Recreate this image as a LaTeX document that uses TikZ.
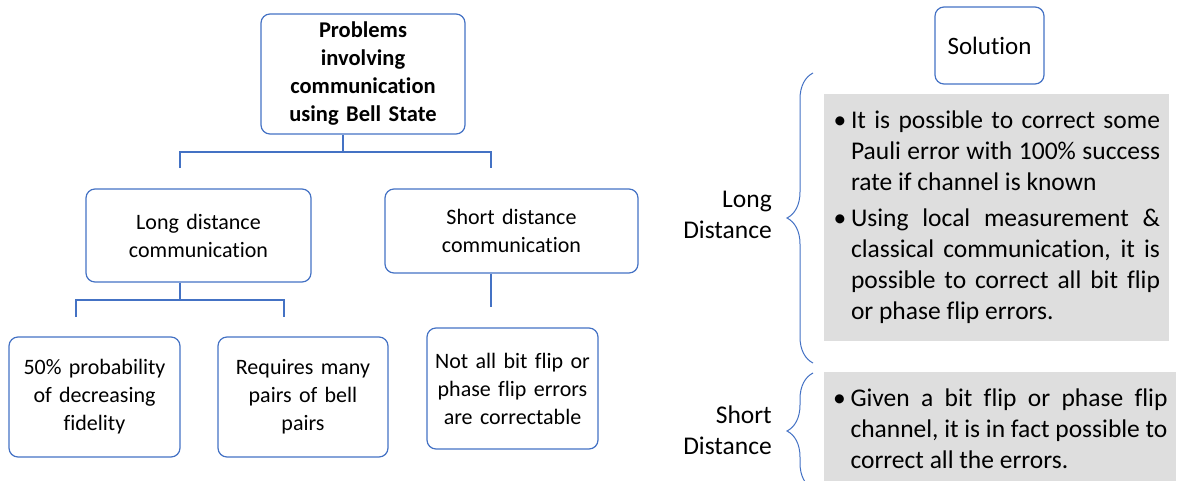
\documentclass[tikz,border=0pt]{standalone}
\usepackage{fontspec}
\setmainfont{Carlito}[Ligatures=NoCommon]
\usetikzlibrary{decorations.pathreplacing}
\definecolor{obl}{RGB}{68,114,196}
\definecolor{gfill}{RGB}{222,222,222}
\tikzset{
  box/.style={draw=obl, line width=1.2pt, rounded corners=9pt, inner sep=0pt, align=center, font=\fontsize{22}{28}\selectfont},
  conn/.style={draw=obl, line width=1.2pt},
  gbox/.style={fill=gfill, inner xsep=9pt, inner ysep=0pt, align=justify, font=\fontsize{25.5}{31}\selectfont},
  lbl/.style={align=right, inner sep=0pt, font=\fontsize{25.5}{31}\selectfont},
  brc/.style={draw=obl, line width=1pt, decorate, decoration={brace, amplitude=26pt}},
}
\newcommand{\gsetup}{\tolerance=10000\relax\hbadness=10000\relax}
\newcommand{\bul}[1]{\noindent\hangindent=18pt\relax\hangafter=1\relax\makebox[18pt][l]{\hspace{0.5pt}\textbullet}#1\par}
\begin{document}
\begin{tikzpicture}[x=1pt,y=-1pt]
\clip (0,0) rectangle (1178,480);
% left tree
\node[box, text width=204pt, minimum height=120pt, font=\fontsize{22.5}{28}\selectfont\bfseries] (prob) at (363,74) {Problems\\involving\\communication\\using Bell State};
\node[box, text width=225pt, minimum height=93pt] (long) at (198.5,235.5) {Long distance\\communication};
\node[box, text width=253pt, minimum height=84pt] (short) at (511.5,231) {Short distance\\communication};
\node[box, text width=171pt, minimum height=120pt] (b1) at (94.5,397) {50\% probability\\of decreasing\\fidelity};
\node[box, text width=170pt, minimum height=120pt] (b2) at (303,397) {Requires many\\pairs of bell\\pairs};
\node[box, text width=171pt, minimum height=121pt] (b3) at (512.5,388.5) {Not all bit flip or\\phase flip errors\\are correctable};
% connectors
\coordinate (p0) at (343,152);
\coordinate (sL) at (180,168);
\coordinate (sS) at (491,168);
\draw[conn] (prob.south -| p0) -- (p0);
\draw[conn] (sL) |- (p0) -| (sS);
\coordinate (q0) at (180,300);
\coordinate (tA) at (76,317);
\coordinate (tB) at (284,317);
\draw[conn] (long.south -| q0) -- (q0);
\draw[conn] (tA) |- (q0) -| (tB);
\coordinate (r0) at (491,307);
\draw[conn] (short.south -| r0) -- (r0);
% right side
\node[box, text width=109pt, minimum height=77pt, font=\fontsize{25}{30}\selectfont] (sol) at (989.5,45.5) {Solution};
\node[gbox, text width=327pt, minimum height=247pt] (g1) at (996.5,217.5) {\gsetup\bul{It is possible to correct some\linebreak Pauli error with 100\% success\linebreak rate if channel is known}\vspace{5pt}\bul{Using local measurement \&\linebreak classical communication, it is\linebreak possible to correct all bit flip\linebreak or phase flip errors.}};
\node[gbox, inner xsep=8.5pt, text width=335pt, minimum height=114pt] (g2) at (1000,429) {\gsetup\bul{Given a bit flip or phase flip\linebreak channel, it is in fact possible to\linebreak correct all the errors.}};
\node[lbl, anchor=east] (lL) at (772,215) {Long\\Distance};
\node[lbl, anchor=east] (lS) at (772,430) {Short\\Distance};
\coordinate (bA1) at (813,363);
\coordinate (bA2) at (813,73);
\draw[brc] (bA1) -- (bA2);
\coordinate (bB1) at (813,489);
\coordinate (bB2) at (813,373);
\draw[brc] (bB1) -- (bB2);
\end{tikzpicture}
\end{document}
